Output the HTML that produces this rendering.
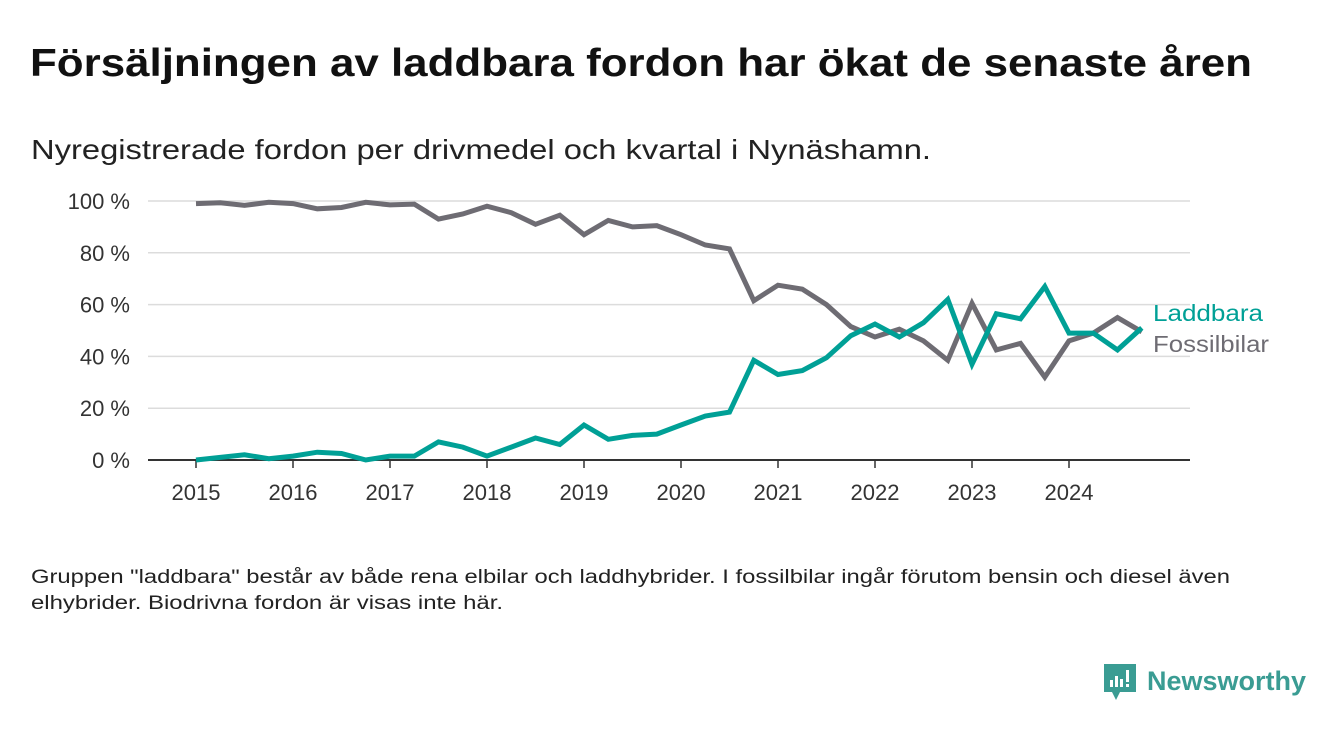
<!DOCTYPE html>
<html><head><meta charset="utf-8"><style>
body{margin:0;background:#fff;width:1340px;height:733px;overflow:hidden;font-family:"Liberation Sans","DejaVu Sans",sans-serif;}
</style></head><body>
<svg width="1340" height="733" xmlns="http://www.w3.org/2000/svg">
<text x="30" y="76" font-size="39" font-weight="bold" fill="#111" textLength="1222" lengthAdjust="spacingAndGlyphs">Försäljningen av laddbara fordon har ökat de senaste åren</text>
<text x="31" y="159" font-size="28" fill="#222" textLength="900" lengthAdjust="spacingAndGlyphs">Nyregistrerade fordon per drivmedel och kvartal i Nynäshamn.</text>
<g id="grid"></g><g id="xaxis"></g><g id="lines"></g>
<text x="1153" y="321" font-size="23" fill="#00a096" textLength="110" lengthAdjust="spacingAndGlyphs">Laddbara</text>
<text x="1153" y="352" font-size="23" fill="#6e6c73" textLength="116" lengthAdjust="spacingAndGlyphs">Fossilbilar</text>
<text x="31" y="583" font-size="19" fill="#222" textLength="1199" lengthAdjust="spacingAndGlyphs">Gruppen "laddbara" består av både rena elbilar och laddhybrider. I fossilbilar ingår förutom bensin och diesel även</text>
<text x="31" y="609" font-size="19" fill="#222" textLength="472" lengthAdjust="spacingAndGlyphs">elhybrider. Biodrivna fordon är visas inte här.</text>
<g>
<path d="M1104 664h32v28h-16l-4 8-4-8h-8z" fill="#3a9c93"/>
<rect x="1110" y="680" width="3" height="7" fill="#fff"/><rect x="1115" y="676" width="3" height="11" fill="#fff"/><rect x="1120" y="679" width="3" height="8" fill="#fff"/><rect x="1126" y="670" width="3" height="12" fill="#fff"/><rect x="1126" y="684" width="3" height="3" fill="#fff"/>
<text x="1147" y="690" font-size="27" font-weight="bold" fill="#3a9c93" textLength="159" lengthAdjust="spacingAndGlyphs">Newsworthy</text>
</g>
</svg>
<script>
const years = [2015,2016,2017,2018,2019,2020,2021,2022,2023,2024];
const yTicks = [0,20,40,60,80,100];
const laddbara = [0,1,2,0.5, 1.5,3,2.5,0, 1.5,1.5,7,5, 1.5,5,8.5,6, 13.5,8,9.5,10, 13.5,17,18.5,38.5, 33,34.5,39.5,48, 52.5,47.5,53,62, 37,56.5,54.5,67, 49,49,42.5,51];
const fossil = [99,99.3,98.3,99.5, 99,97,97.5,99.5, 98.5,98.8,93,95, 98,95.5,91,94.5, 87,92.5,90,90.5, 87,83,81.5,61.5, 67.5,66,60,51.5, 47.5,50.5,46,38.5, 60.5,42.5,45,32, 46,49,55,49.5];
const NS="http://www.w3.org/2000/svg";
const xs = t => 196 + (t - 2015) * 97;
const ys = v => 460 - v * 2.59;
function mk(tag, attrs, parent){const e=document.createElementNS(NS,tag);for(const k in attrs)e.setAttribute(k,attrs[k]);parent.appendChild(e);return e;}
const grid=document.getElementById('grid'), xa=document.getElementById('xaxis'), lg=document.getElementById('lines');
yTicks.forEach(v=>{
  if(v>0){const l=mk('line',{x1:148,x2:1190,y1:ys(v),y2:ys(v),stroke:'#dcdcdc','stroke-width':1.5},grid);
  
  }
  const t=mk('text',{x:130,y:ys(v)+8,'font-size':22,fill:'#333','text-anchor':'end'},grid);
  t.textContent=v+' %';
  
  
});
const base=mk('line',{x1:148,x2:1190,y1:460,y2:460,stroke:'#333','stroke-width':2},xa);


years.forEach(y=>{
  const tk=mk('line',{x1:xs(y),x2:xs(y),y1:460,y2:468,stroke:'#333','stroke-width':1.5},xa);
  
  
  const t=mk('text',{x:xs(y),y:500,'font-size':22,fill:'#333','text-anchor':'middle'},xa);
  t.textContent=y;
  
  
});
function drawLine(arr,color,name){
  const d=arr.map((v,i)=>(i?'L':'M')+xs(2015+i/4).toFixed(1)+' '+ys(v).toFixed(1)).join(' ');
  const p=mk('path',{d:d,fill:'none',stroke:color,'stroke-width':5,'stroke-linejoin':'miter'},lg);
  
  
}
drawLine(fossil,'#6e6c73','line-fossilbilar');
drawLine(laddbara,'#00a096','line-laddbara');
</script>
</body></html>
